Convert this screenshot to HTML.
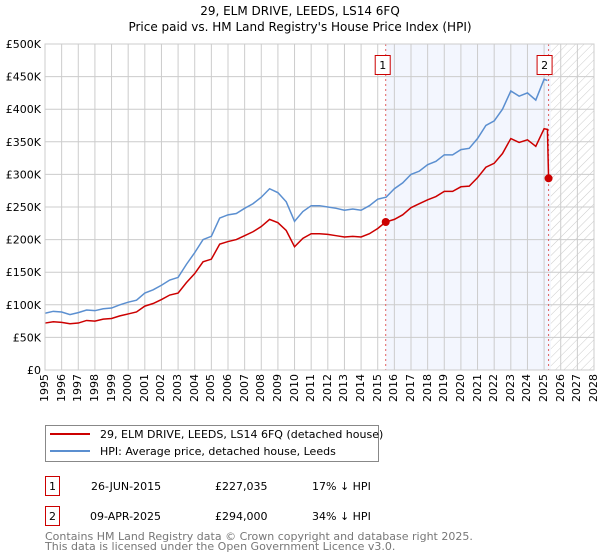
<!DOCTYPE html>
<html><head><meta charset="utf-8"><style>
body{margin:0;background:#fff;position:relative;width:600px;height:560px;overflow:hidden;}
svg{display:block;font-family:"DejaVu Sans","Liberation Sans",sans-serif;}
.xl{position:absolute;font:11px "DejaVu Sans","Liberation Sans",sans-serif;white-space:nowrap;line-height:12px;writing-mode:vertical-rl;transform:rotate(180deg);}
</style></head><body>
<svg id="chart" width="600" height="560" style="position:absolute;left:0;top:0">
<defs>
<pattern id="hatch" width="6" height="6" patternUnits="userSpaceOnUse" patternTransform="rotate(45)">
<line x1="0" y1="0" x2="0" y2="6" stroke="#ccc" stroke-width="1"/></pattern>
</defs>
<text x="300" y="15" text-anchor="middle" font-size="12">29, ELM DRIVE, LEEDS, LS14 6FQ</text>
<text x="300" y="31" text-anchor="middle" font-size="12">Price paid vs. HM Land Registry's House Price Index (HPI)</text>
<g id="plot"></g>
<g>
<rect x="45.5" y="425.5" width="333" height="36" fill="#fff" stroke="#888"/>
<line x1="50" y1="434" x2="90" y2="434" stroke="#cc0000" stroke-width="2"/>
<text x="100" y="438" font-size="11">29, ELM DRIVE, LEEDS, LS14 6FQ (detached house)</text>
<line x1="50" y1="451" x2="90" y2="451" stroke="#5b8fd0" stroke-width="2"/>
<text x="100" y="455" font-size="11">HPI: Average price, detached house, Leeds</text>
</g>
<g font-size="11">
<rect x="45.5" y="476.5" width="14" height="19" fill="#fff" stroke="#cc0000"/>
<text x="52.5" y="490" text-anchor="middle">1</text>
<text x="91" y="490">26-JUN-2015</text><text x="215" y="490">£227,035</text><text x="312" y="490">17% ↓ HPI</text>
<rect x="45.5" y="506.5" width="14" height="19" fill="#fff" stroke="#cc0000"/>
<text x="52.5" y="520" text-anchor="middle">2</text>
<text x="90" y="520">09-APR-2025</text><text x="215" y="520">£294,000</text><text x="312" y="520">34% ↓ HPI</text>
</g>
<text x="45" y="540" font-size="11" fill="#777">Contains HM Land Registry data © Crown copyright and database right 2025.</text>
<text x="45" y="550" font-size="11" fill="#777">This data is licensed under the Open Government Licence v3.0.</text>
</svg>
<div id="xlabels"></div>
<script>
const hpiYears=[1995,1995.5,1996,1996.5,1997,1997.5,1998,1998.5,1999,1999.5,2000,2000.5,2001,2001.5,2002,2002.5,2003,2003.5,2004,2004.5,2005,2005.5,2006,2006.5,2007,2007.5,2008,2008.5,2009,2009.5,2010,2010.5,2011,2011.5,2012,2012.5,2013,2013.5,2014,2014.5,2015,2015.5,2016,2016.5,2017,2017.5,2018,2018.5,2019,2019.5,2020,2020.5,2021,2021.5,2022,2022.5,2023,2023.5,2024,2024.5,2025,2025.2];
const hpiValues=[87,90,89,85,88,92,91,94,95,100,104,107,118,123,130,138,142,162,180,200,205,233,238,240,248,255,265,278,272,258,228,243,252,252,250,248,245,247,245,252,262,265,278,287,300,305,315,320,330,330,338,340,355,375,382,400,428,420,425,414,446,444];
const priceYears=[1995,1995.5,1996,1996.5,1997,1997.5,1998,1998.5,1999,1999.5,2000,2000.5,2001,2001.5,2002,2002.5,2003,2003.5,2004,2004.5,2005,2005.5,2006,2006.5,2007,2007.5,2008,2008.5,2009,2009.5,2010,2010.5,2011,2011.5,2012,2012.5,2013,2013.5,2014,2014.5,2015,2015.48,2016,2016.5,2017,2017.5,2018,2018.5,2019,2019.5,2020,2020.5,2021,2021.5,2022,2022.5,2023,2023.5,2024,2024.5,2025,2025.2,2025.27,2025.35];
const priceValues=[72,74,73,71,72,76,75,78,79,83,86,89,98,102,108,115,118,134,148,166,170,193,197,200,206,212,220,231,226,214,189,202,209,209,208,206,204,205,204,209,217,227,231,238,249,255,261,266,274,274,281,282,295,311,317,332,355,349,353,343,370,369,294,294];
const sales=[{n:1,year:2015.48,value:227},{n:2,year:2025.27,value:294}];
const yTicks=[0,50,100,150,200,250,300,350,400,450,500];
const yTickLabels=["£0","£50K","£100K","£150K","£200K","£250K","£300K","£350K","£400K","£450K","£500K"];
const xTicks=[1995,1996,1997,1998,1999,2000,2001,2002,2003,2004,2005,2006,2007,2008,2009,2010,2011,2012,2013,2014,2015,2016,2017,2018,2019,2020,2021,2022,2023,2024,2025,2026,2027,2028];

const L=45,R=594,T=44,B=370,x0=1995,x1=2028,dataEnd=2025.4;
const xs=v=>L+(v-x0)/(x1-x0)*(R-L);
const ys=v=>B-v/500*(B-T);
const NS="http://www.w3.org/2000/svg";
const g=document.getElementById('plot');
const xl=document.getElementById('xlabels');
function mk(t,a,p){const e=document.createElementNS(NS,t);for(const k in a)e.setAttribute(k,a[k]);(p||g).appendChild(e);return e;}

mk('rect',{x:xs(sales[0].year),y:T,width:xs(dataEnd)-xs(sales[0].year),height:B-T,fill:'#eef2fd',opacity:0.7});
mk('rect',{x:xs(dataEnd),y:T,width:R-xs(dataEnd),height:B-T,fill:'url(#hatch)'});
yTicks.forEach((v,i)=>{
  const l=mk('line',{x1:L,x2:R,y1:ys(v),y2:ys(v),stroke:'#ccc','stroke-width':1});
  
  
  const t=mk('text',{x:L-4,y:ys(v)+4,'text-anchor':'end','font-size':11});
  t.textContent=yTickLabels[i];
  
  
});
xTicks.forEach(v=>{
  const l=mk('line',{x1:xs(v),x2:xs(v),y1:T,y2:B,stroke:'#ccc','stroke-width':1});
  
  
  const d=document.createElement('div');
  d.className='xl';
  d.textContent=v;
  d.style.left=(xs(v)-6)+'px';
  d.style.top=(B+4)+'px';
  
  
  xl.appendChild(d);
});
sales.forEach(s=>{
  const l=mk('line',{x1:xs(s.year),x2:xs(s.year),y1:T,y2:B,stroke:'#e06060','stroke-width':1,'stroke-dasharray':'2,3'});
  
  
});
const hp=mk('polyline',{points:hpiYears.map((y,i)=>xs(y)+','+ys(hpiValues[i])).join(' '),fill:'none',stroke:'#5b8fd0','stroke-width':1.5});


const pp=mk('polyline',{points:priceYears.map((y,i)=>xs(y)+','+ys(priceValues[i])).join(' '),fill:'none',stroke:'#cc0000','stroke-width':1.5});


sales.forEach(s=>{
  const c=mk('circle',{cx:xs(s.year),cy:ys(s.value),r:4,fill:'#cc0000'});
  
  
  const cx=xs(s.year)-(s.n===1?3:4);
  const b=mk('rect',{x:cx-7.5,y:55.5,width:15,height:19,fill:'#fff',stroke:'#cc0000'});
  
  
  const t=mk('text',{x:cx,y:69,'text-anchor':'middle','font-size':11});
  t.textContent=s.n;
  
  
});
mk('rect',{x:L,y:T,width:R-L,height:B-T,fill:'none',stroke:'#ccc'});
</script>
</body></html>
